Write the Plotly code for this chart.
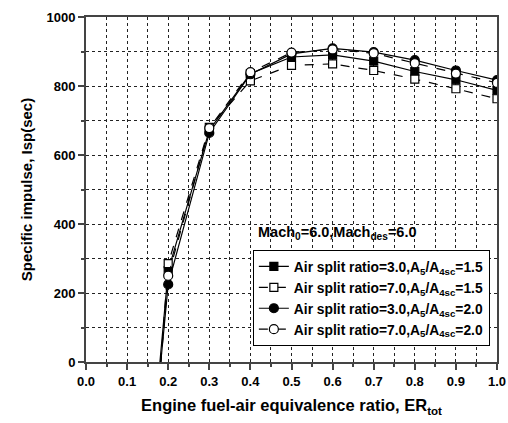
import plotly.graph_objects as go

er = [0.1, 0.2, 0.3, 0.4, 0.5, 0.6, 0.7, 0.8, 0.9, 1.0]
s30_15 = [-1050, 265, 672, 836, 884, 890, 872, 842, 818, 787]
s70_15 = [-1300, 285, 680, 815, 860, 864, 845, 820, 792, 763]
s30_20 = [-1025, 225, 664, 834, 893, 909, 898, 875, 845, 817]
s70_20 = [-1150, 250, 678, 840, 897, 906, 895, 866, 836, 809]

names = [
    "Air split ratio=3.0,A<sub>5</sub>/A<sub>4sc</sub>=1.5",
    "Air split ratio=7.0,A<sub>5</sub>/A<sub>4sc</sub>=1.5",
    "Air split ratio=3.0,A<sub>5</sub>/A<sub>4sc</sub>=2.0",
    "Air split ratio=7.0,A<sub>5</sub>/A<sub>4sc</sub>=2.0",
]

font = "Liberation Sans, Arial, sans-serif"
fig = go.Figure()
specs = [
    (s30_15, "square", "black", "solid", 8),
    (s70_15, "square", "white", "dash", 8),
    (s30_20, "circle", "black", "solid", 9),
    (s70_20, "circle", "white", "dash", 9),
]
for (ys, sym, fill, dash, ms), nm in zip(specs, names):
    fig.add_trace(go.Scatter(
        x=er, y=ys, name=nm, mode="lines+markers",
        line=dict(color="black", width=1.2, dash=dash),
        marker=dict(symbol=sym, size=ms, color=fill, line=dict(color="black", width=1.2)),
        cliponaxis=True,
    ))

axis_common = dict(
    showline=True, linecolor="#444", linewidth=2, mirror=True,
    ticks="outside", ticklen=6, tickwidth=1.5, tickcolor="#444",
    showgrid=True, gridcolor="#222", griddash="dot", gridwidth=1,
    zeroline=False, automargin=False,
    tickfont=dict(family=font, size=13, color="black", weight="bold"),
)
fig.update_xaxes(
    range=[0, 1.0], dtick=0.1, tickformat=".1f",
    minor=dict(dtick=0.05, showgrid=True, gridcolor="#222", griddash="dot",
               ticks="outside", ticklen=3, tickcolor="#444"),
    title=dict(text="Engine fuel-air equivalence ratio, ER<sub>tot</sub>",
               font=dict(family=font, size=16.5, color="black", weight="bold"), standoff=12),
    **axis_common,
)
fig.update_yaxes(
    range=[0, 1000], dtick=200,
    minor=dict(dtick=100, showgrid=True, gridcolor="#222", griddash="dot",
               ticks="outside", ticklen=3, tickcolor="#444"),
    title=dict(text="Specific impulse, Isp(sec)",
               font=dict(family=font, size=15, color="black", weight="bold"), standoff=10),
    **axis_common,
)
fig.add_annotation(
    x=0.414, y=0.374, xref="paper", yref="paper", xanchor="left", yanchor="middle",
    text="Mach<sub>0</sub>=6.0,Mach<sub>des</sub>=6.0", showarrow=False,
    font=dict(family=font, size=14.5, color="black", weight="bold"),
)
fig.update_layout(
    width=508, height=423,
    margin=dict(l=86, r=11, t=17, b=61, autoexpand=False),
    paper_bgcolor="white", plot_bgcolor="white",
    legend=dict(x=0.406, y=0.325, xanchor="left", yanchor="top",
                bgcolor="white", bordercolor="black", borderwidth=1,
                font=dict(family=font, size=13.8, color="black", weight="bold"),
                tracegroupgap=0, itemwidth=30),
    showlegend=True,
)
fig.write_html("out.html")
